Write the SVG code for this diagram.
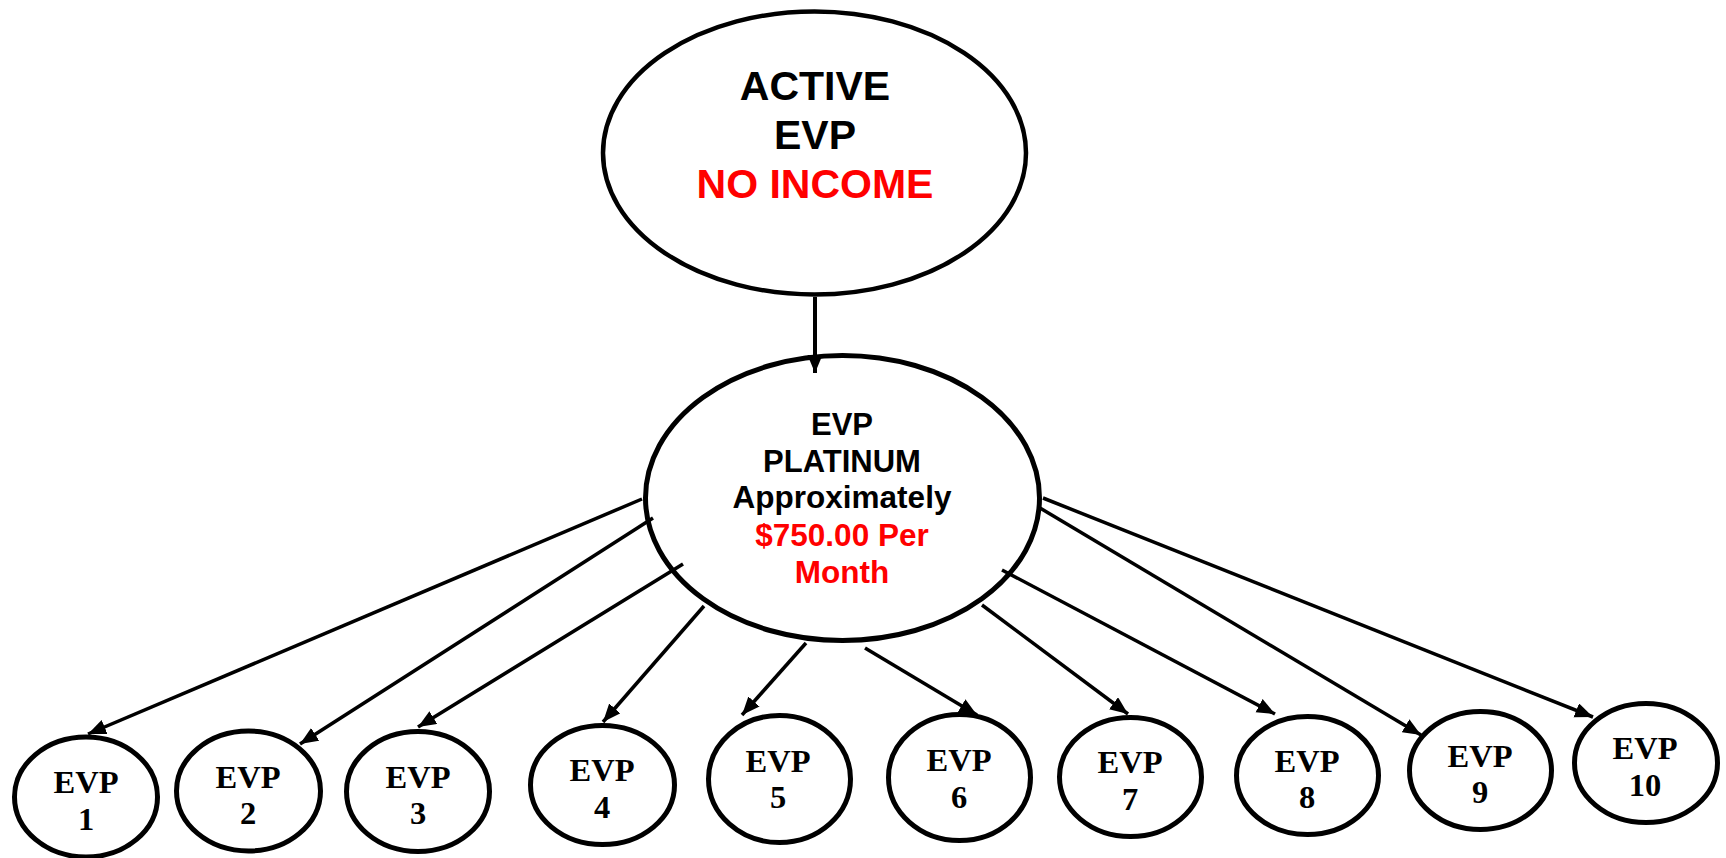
<svg xmlns="http://www.w3.org/2000/svg" width="1726" height="858" viewBox="0 0 1726 858">
<style>
.big{fill:#fff;stroke:#000;stroke-width:4.5}
.mid{fill:#fff;stroke:#000;stroke-width:5}
.sm{fill:#fff;stroke:#000;stroke-width:5}
.sans{font-family:"Liberation Sans",Arial,sans-serif;font-weight:bold;text-anchor:middle}
.serif{font-family:"Liberation Serif","Times New Roman",serif;font-weight:bold;text-anchor:middle;font-size:32.5px;fill:#000}
.blk{fill:#000}
.red{fill:#ff0000}
.conn line{stroke:#000;stroke-width:3.5;marker-end:url(#arr)}
.conn line.top{stroke-width:4}
</style>
<defs>
<marker id="arr" markerUnits="userSpaceOnUse" markerWidth="20" markerHeight="16" refX="18" refY="7.5" orient="auto">
<path d="M0,0 L18,7.5 L0,15 z" fill="#000"/>
</marker>
</defs>
<g id="active">
<ellipse class="big" cx="814.5" cy="153" rx="211.5" ry="141.5"/>
<text class="sans blk" x="815" y="100" font-size="41">ACTIVE</text>
<text class="sans blk" x="815" y="149" font-size="41">EVP</text>
<text class="sans red" x="815" y="198" font-size="41">NO INCOME</text>
</g>
<g id="platinum">
<ellipse class="mid" cx="842.5" cy="498" rx="197" ry="142.5"/>
<text class="sans blk" x="842" y="435" font-size="31">EVP</text>
<text class="sans blk" x="842" y="472" font-size="31">PLATINUM</text>
<text class="sans blk" x="842" y="508" font-size="31.5">Approximately</text>
<text class="sans red" x="842" y="546" font-size="31.5">$750.00 Per</text>
<text class="sans red" x="842" y="583" font-size="31.5">Month</text>
</g>
<g id="evp1"><ellipse class="sm" cx="86" cy="797" rx="71.5" ry="60"/><text class="serif" x="86" y="793">EVP</text><text class="serif" x="86" y="830">1</text></g>
<g id="evp2"><ellipse class="sm" cx="248.5" cy="791" rx="72" ry="60"/><text class="serif" x="248" y="788">EVP</text><text class="serif" x="248" y="824">2</text></g>
<g id="evp3"><ellipse class="sm" cx="418" cy="791.5" rx="71.5" ry="60"/><text class="serif" x="418" y="788">EVP</text><text class="serif" x="418" y="824">3</text></g>
<g id="evp4"><ellipse class="sm" cx="602.5" cy="785" rx="72" ry="59.5"/><text class="serif" x="602" y="781">EVP</text><text class="serif" x="602" y="818">4</text></g>
<g id="evp5"><ellipse class="sm" cx="779.5" cy="779" rx="71" ry="63.5"/><text class="serif" x="778" y="772">EVP</text><text class="serif" x="778" y="808">5</text></g>
<g id="evp6"><ellipse class="sm" cx="959.5" cy="777.5" rx="71" ry="63"/><text class="serif" x="959" y="771">EVP</text><text class="serif" x="959" y="808">6</text></g>
<g id="evp7"><ellipse class="sm" cx="1130.5" cy="777" rx="71" ry="59.5"/><text class="serif" x="1130" y="773">EVP</text><text class="serif" x="1130" y="810">7</text></g>
<g id="evp8"><ellipse class="sm" cx="1307.5" cy="775.5" rx="71" ry="59"/><text class="serif" x="1307" y="772">EVP</text><text class="serif" x="1307" y="808">8</text></g>
<g id="evp9"><ellipse class="sm" cx="1480.5" cy="770.5" rx="71" ry="59"/><text class="serif" x="1480" y="767">EVP</text><text class="serif" x="1480" y="803">9</text></g>
<g id="evp10"><ellipse class="sm" cx="1646" cy="763" rx="71.5" ry="59.5"/><text class="serif" x="1645" y="759">EVP</text><text class="serif" x="1645" y="796">10</text></g>
<g id="connectors" class="conn">
<line class="top" x1="815" y1="297" x2="815" y2="373"/>
<line x1="642" y1="499" x2="88" y2="734"/>
<line x1="653" y1="518" x2="300" y2="744"/>
<line x1="683" y1="564" x2="418" y2="727"/>
<line x1="704" y1="606" x2="603" y2="722"/>
<line x1="806" y1="643" x2="742" y2="715"/>
<line x1="865" y1="648" x2="977" y2="715"/>
<line x1="982" y1="605" x2="1128" y2="714"/>
<line x1="1002" y1="570" x2="1275" y2="714"/>
<line x1="1040" y1="508" x2="1421" y2="735"/>
<line x1="1043" y1="498" x2="1593" y2="717"/>
</g>
</svg>
